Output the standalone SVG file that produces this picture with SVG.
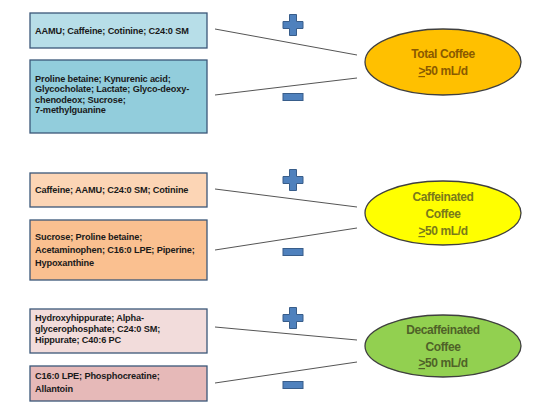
<svg xmlns="http://www.w3.org/2000/svg" width="550" height="413" viewBox="0 0 550 413">
<style>
.box{stroke:#3b5779;stroke-width:1.3}
.t{font-family:"Liberation Sans",Arial,sans-serif;font-weight:bold;font-size:9.2px;fill:#1a1a1a;letter-spacing:-0.15px}
.e{stroke:#3f3f3f;stroke-width:1.3}
.et{font-family:"Liberation Sans",Arial,sans-serif;font-weight:bold;font-size:12px;text-anchor:middle;letter-spacing:-0.4px}
.sign{fill:#4f81bd;stroke:#385d8a;stroke-width:1}
.c{stroke:#555;stroke-width:1;fill:none}
</style>
<defs>
<path id="plus" d="M-3.5,-10.5h7v7h6.5v7h-6.5v7h-7v-7h-6.5v-7h6.5z"/>
<rect id="minus" x="-10" y="-3.5" width="20" height="7"/>
</defs>
<rect width="550" height="413" fill="#ffffff"/>
<g id="connectors">
<line class="c" x1="215" y1="29" x2="357" y2="55"/>
<line class="c" x1="215" y1="95" x2="357" y2="78"/>
<line class="c" x1="215" y1="189" x2="357" y2="207"/>
<line class="c" x1="215" y1="250" x2="357" y2="228"/>
<line class="c" x1="215" y1="327" x2="357" y2="340"/>
<line class="c" x1="215" y1="383" x2="357" y2="362"/>
</g>
<g id="signs">
<use href="#plus" class="sign" x="293" y="25"/>
<use href="#minus" class="sign" x="293" y="97"/>
<use href="#plus" class="sign" x="293" y="180"/>
<use href="#minus" class="sign" x="293" y="252"/>
<use href="#plus" class="sign" x="293" y="318"/>
<use href="#minus" class="sign" x="293" y="385"/>
</g>
<g id="box1">
<rect class="box" x="30" y="13" width="177" height="35" fill="#b7dee8"/>
<text class="t" x="35" y="34">AAMU; Caffeine; Cotinine; C24:0 SM</text>
</g>
<g id="box2">
<rect class="box" x="30" y="60" width="177" height="73" fill="#92cddc"/>
<text class="t" x="35" y="81.5">Proline betaine;  Kynurenic acid;</text>
<text class="t" x="35" y="92">Glycocholate; Lactate; Glyco-deoxy-</text>
<text class="t" x="35" y="102.5">chenodeox; Sucrose;</text>
<text class="t" x="35" y="113">7-methylguanine</text>
</g>
<g id="ellipse1">
<ellipse class="e" cx="443" cy="62" rx="78" ry="33" fill="#ffc000"/>
<text class="et" x="443" y="57.5" fill="#8a5a00">Total Coffee</text>
<text class="et" x="443" y="75" fill="#8a5a00"><tspan text-decoration="underline">&gt;</tspan>50 mL/d</text>
</g>
<g id="box3">
<rect class="box" x="30" y="173" width="177" height="34" fill="#fcd5b5"/>
<text class="t" x="35" y="192.5">Caffeine; AAMU; C24:0 SM; Cotinine</text>
</g>
<g id="box4">
<rect class="box" x="30" y="220" width="177" height="60" fill="#fac090"/>
<text class="t" x="35" y="239.5">Sucrose; Proline betaine;</text>
<text class="t" x="35" y="252.5">Acetaminophen; C16:0 LPE; Piperine;</text>
<text class="t" x="35" y="265.5">Hypoxanthine</text>
</g>
<g id="ellipse2">
<ellipse class="e" cx="443" cy="213" rx="78" ry="32" fill="#ffff00"/>
<text class="et" x="443" y="201" fill="#7a7a1a">Caffeinated</text>
<text class="et" x="443" y="217.5" fill="#7a7a1a">Coffee</text>
<text class="et" x="443" y="235" fill="#7a7a1a"><tspan text-decoration="underline">&gt;</tspan>50 mL/d</text>
</g>
<g id="box5">
<rect class="box" x="30" y="309" width="177" height="44" fill="#f2dcdb"/>
<text class="t" x="35" y="320.5">Hydroxyhippurate; Alpha-</text>
<text class="t" x="35" y="331.5">glycerophosphate; C24:0 SM;</text>
<text class="t" x="35" y="342.5">Hippurate; C40:6 PC</text>
</g>
<g id="box6">
<rect class="box" x="30" y="366" width="177" height="35" fill="#e6b9b8"/>
<text class="t" x="35" y="378.5">C16:0 LPE; Phosphocreatine;</text>
<text class="t" x="35" y="391.5">Allantoin</text>
</g>
<g id="ellipse3">
<ellipse class="e" cx="443" cy="346" rx="78" ry="31" fill="#92d050"/>
<text class="et" x="443" y="334" fill="#4f6228">Decaffeinated</text>
<text class="et" x="443" y="350.5" fill="#4f6228">Coffee</text>
<text class="et" x="443" y="367" fill="#4f6228"><tspan text-decoration="underline">&gt;</tspan>50 mL/d</text>
</g>
</svg>
